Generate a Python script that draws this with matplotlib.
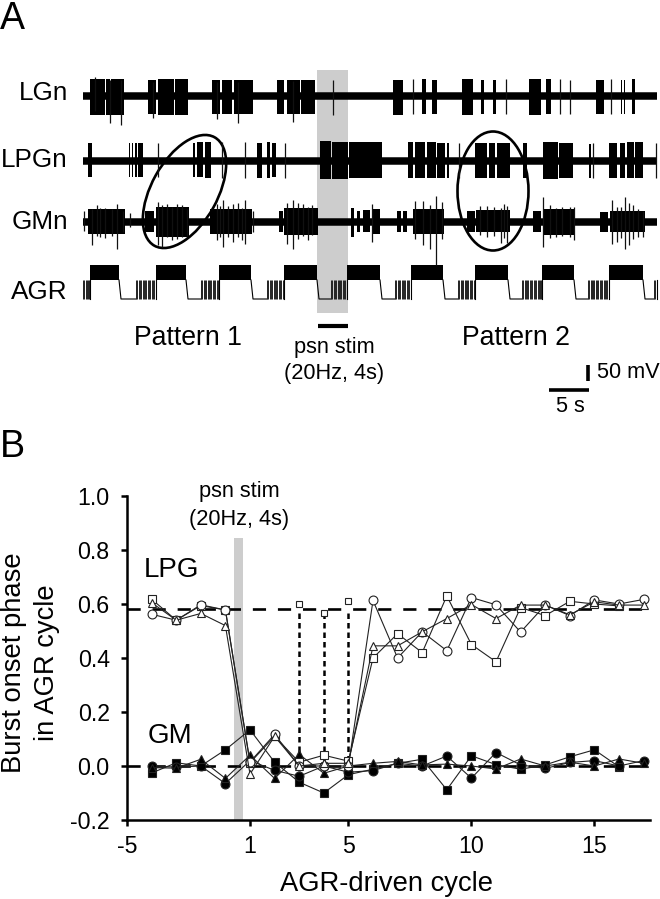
import matplotlib
matplotlib.use("Agg")
import matplotlib.pyplot as plt
from matplotlib.patches import Ellipse

plt.rcParams['font.family'] = ['Liberation Sans', 'DejaVu Sans']

# 記録トレース: 時間は 1 sample = 1/7.6 s, 振幅は 1 unit = 50/16 mV
# バースト (start, end, up, down)
LGN_BURSTS = [(90, 105, 17, 19), (106, 110, 17, 19), (111, 124, 17, 19), (148, 156, 16, 18), (158, 174, 17, 19),
              (175, 188, 17, 19), (212, 220, 16, 18), (222, 232, 16, 18), (234, 253, 16, 18), (277, 284, 16, 18),
              (287, 300, 16, 18), (301, 315, 16, 18), (393, 403, 16, 19), (422, 426, 17, 18), (432, 437, 16, 18),
              (462, 473, 17, 19), (481, 484, 16, 18), (493, 496, 16, 18), (529, 541, 17, 19), (546, 551, 17, 18),
              (596, 604, 16, 18), (621, 622, 16, 18), (624, 625, 16, 18), (632, 635, 17, 18)]
LGN_SPIKES = [(95, 19, 15), (110, 16, 27), (121, 16, 29), (153, 14, 22), (217, 14, 23), (238, 14, 27),
              (293, 15, 26), (333, 16, 19), (413, 17, 18), (506, 17, 18), (560, 17, 18), (570, 16, 18), (611, 17, 18)]

LPGN_BURSTS = [(88, 92, 18, 16), (129, 130, 18, 16), (132, 133, 18, 16), (135, 137, 18, 16), (138, 143, 18, 16),
               (193, 195, 18, 16), (197, 203, 19, 16), (205, 211, 19, 17), (257, 262, 18, 17), (267, 270, 19, 17),
               (272, 276, 18, 16), (320, 331, 20, 18), (332, 348, 19, 18), (349, 382, 19, 17), (408, 413, 19, 17),
               (415, 425, 19, 17), (427, 436, 19, 17), (437, 445, 18, 17), (447, 449, 18, 17), (475, 487, 18, 17),
               (489, 495, 18, 17), (497, 510, 18, 17), (523, 527, 18, 17), (543, 558, 19, 18), (559, 573, 18, 17),
               (589, 591, 17, 17), (609, 617, 18, 17), (620, 625, 18, 17), (627, 634, 19, 17), (635, 643, 19, 17)]
LPGN_SPIKES = [(158, 18, 16), (222, 19, 17), (245, 19, 17), (285, 18, 17), (459, 18, 17), (593, 18, 17), (656, 18, 17)]

GMN_BURSTS = [(88, 125, 13, 12), (145, 154, 11, 10), (156, 189, 15, 15), (210, 252, 13, 12), (279, 283, 11, 10),
              (284, 318, 14, 13), (351, 354, 14, 15), (357, 360, 11, 10), (363, 370, 12, 10), (373, 380, 13, 12),
              (397, 401, 11, 10), (403, 407, 11, 10), (413, 444, 13, 12), (467, 475, 11, 10), (476, 510, 12, 10),
              (533, 541, 11, 10), (543, 574, 13, 13), (600, 608, 10, 10), (610, 645, 11, 10)]
GMN_SPIKES = [(84, 11, 9), (92, 13, 23), (97, 17, 14), (100, 14, 15), (105, 14, 16), (112, 13, 14), (117, 18, 27),
              (123, 11, 10), (130, 9, 5), (158, 20, 23), (162, 17, 25), (167, 18, 15), (172, 15, 18), (177, 18, 17),
              (182, 17, 15), (187, 13, 14), (217, 18, 18), (220, 16, 15), (223, 22, 25), (228, 16, 15), (233, 18, 20),
              (238, 19, 15), (242, 14, 18), (245, 22, 22), (253, 11, 10), (287, 19, 22), (293, 22, 27), (298, 19, 17),
              (303, 18, 14), (308, 15, 18), (312, 17, 13), (372, 18, 20), (415, 21, 17), (423, 21, 23), (430, 17, 27),
              (436, 26, 43), (442, 20, 17), (480, 16, 13), (487, 16, 15), (494, 15, 14), (501, 14, 21), (504, 18, 16),
              (507, 16, 21), (543, 25, 25), (550, 17, 16), (556, 14, 15), (562, 15, 14), (570, 15, 15), (574, 15, 18),
              (612, 22, 22), (617, 15, 20), (621, 15, 16), (625, 25, 27), (629, 19, 23), (633, 17, 17), (638, 13, 15),
              (643, 11, 15)]
# AGR の誘発バースト: (刺激開始, プラトー開始, プラトー終了)
AGR_CYCLES = [(83, 90, 119), (136, 156, 186), (201, 219, 251), (267, 284, 317), (331, 347, 380), (395, 411, 443),
              (458, 475, 508), (522, 542, 574), (588, 609, 643), (654, 657, 657)]

TRACE_LABELS = ['LGn', 'LPGn', 'GMn', 'AGR']

# 位相データ: サイクル番号（0 はない）
CYCLES = [-4, -3, -2, -1, 1, 2, 3, 4, 5, 6, 7, 8, 9, 10, 11, 12, 13, 14, 15, 16, 17]
LPG_SQUARE = [0.618, 0.54, 0.594, 0.578, 0.012, 0.11, 0.014, 0.04, 0.018, 0.40, 0.49, 0.42, 0.63, 0.45, 0.386, 0.587,
              0.557, 0.61, 0.60, 0.593]
LPG_CIRCLE = [0.562, 0.54, 0.597, 0.578, 0.015, 0.117, 0.0, 0.0, 0.0, 0.613, 0.40, 0.497, 0.427, 0.624, 0.597, 0.496,
              0.596, 0.557, 0.615, 0.60, 0.617]
LPG_TRIANGLE = [0.605, 0.54, 0.565, 0.52, -0.03, 0.11, 0.0, 0.01, 0.01, 0.445, 0.445, 0.497, 0.546, 0.598, 0.546,
                0.596, 0.596, 0.56, 0.608, 0.596, 0.596]
GM_SQUARE = [-0.026, 0.012, 0.0, 0.06, 0.134, 0.014, -0.06, -0.10, -0.032, -0.012, 0.01, 0.025, -0.088, 0.038, 0.005,
             -0.012, 0.004, 0.034, 0.06, -0.003]
GM_CIRCLE = [0.0, -0.004, 0.0, -0.065, 0.02, -0.016, -0.038, 0.0, -0.023, -0.017, 0.01, 0.0, 0.037, -0.045, 0.05,
             0.004, -0.009, 0.013, 0.02, 0.0, 0.02]
GM_TRIANGLE = [-0.006, -0.008, 0.025, -0.046, 0.04, -0.046, 0.043, -0.027, 0.0, 0.01, 0.017, 0.004, 0.007, 0.0,
               -0.011, 0.026, 0.0, 0.014, 0.0, 0.026, 0.01]
# 刺激中に LPG が抜けたサイクル
SKIP_CYCLES = [3, 4, 5]
SKIP_PHASE = [0.60, 0.568, 0.61]
LPG_MEAN = 0.58
X_TICK_CYCLES = [-5, 1, 5, 10, 15]
Y_TICKS = [-0.2, 0.0, 0.2, 0.4, 0.6, 0.8, 1.0]


def cycle_pos(c):
    # 0 がないので負側を詰める
    return c + 5 if c < 0 else c + 4


def draw_trace(ax, y0, bursts, spikes):
    ax.plot([83, 657], [y0, y0], color='k', lw=5.4, solid_capstyle='butt')
    for start, end, up, down in bursts:
        ax.fill_between([start, end], y0 - up, y0 + down, color='k', lw=0)
    for t, up, down in spikes:
        ax.vlines(t, y0 - up, y0 + down, color='#111111', lw=0.9)


def draw_agr(ax):
    top, mid, low = 265, 280, 299
    for i, (stim, rise, fall) in enumerate(AGR_CYCLES):
        # 誘発スパイク
        t = stim
        while t < rise:
            ax.vlines(t, mid, low, color='#222222', lw=0.7)
            t += 1.3
        ax.fill_between([rise, fall], top, mid, color='k', lw=0)
        ax.plot([rise, rise], [mid, low], color='k', lw=0.8)
        if i + 1 < len(AGR_CYCLES):
            ax.plot([fall, fall + 2, AGR_CYCLES[i + 1][0]], [mid, low, low], color='k', lw=0.8)


def main():
    fig = plt.figure(figsize=(6.6, 8.99), dpi=100)

    # 上のパネル（図全体をピクセル相当の座標で使う）
    ax = fig.add_axes([0, 0, 1, 1])
    ax.set_xlim(0, 660)
    ax.set_ylim(899, 0)
    ax.axis('off')

    ax.fill_between([317, 348], 70, 313, color='#cdcdcd', lw=0)
    draw_trace(ax, 96, LGN_BURSTS, LGN_SPIKES)
    draw_trace(ax, 160.5, LPGN_BURSTS, LPGN_SPIKES)
    draw_trace(ax, 222, GMN_BURSTS, GMN_SPIKES)
    draw_agr(ax)

    ax.add_patch(Ellipse((184.5, 191.5), 124, 66, angle=-61, fill=False, ec='k', lw=1.9))
    ax.add_patch(Ellipse((493, 191), 71, 119, fill=False, ec='k', lw=1.9))

    for label, y in zip(TRACE_LABELS, [93, 160, 222, 292]):
        ax.text(68, y, label, ha='right', va='center', fontsize=18.8)

    ax.plot([318, 348], [326, 326], color='k', lw=3, solid_capstyle='butt')
    ax.text(188, 338, 'Pattern 1', ha='center', va='center', fontsize=19.2)
    ax.text(516, 338, 'Pattern 2', ha='center', va='center', fontsize=19.2)
    ax.text(334, 347, 'psn stim', ha='center', va='center', fontsize=15.7)
    ax.text(334, 374, '(20Hz, 4s)', ha='center', va='center', fontsize=15.7)

    ax.plot([588, 588], [365, 381], color='k', lw=2.6, solid_capstyle='butt')
    ax.plot([549, 589], [390, 390], color='k', lw=2.6, solid_capstyle='butt')
    ax.text(597, 372, '50 mV', ha='left', va='center', fontsize=15.7)
    ax.text(570, 407, '5 s', ha='center', va='center', fontsize=15.7)

    ax.text(0, 19, 'A', ha='left', va='center', fontsize=27)
    ax.text(0, 447, 'B', ha='left', va='center', fontsize=27)

    # 下のパネル
    ax2 = fig.add_axes([127 / 660, 79 / 899, 523 / 660, 324 / 899])
    ax2.patch.set_alpha(0)
    ax2.set_xlim(0, 21.26)
    ax2.set_ylim(-0.2, 1.0)
    for s in ['top', 'right']:
        ax2.spines[s].set_visible(False)
    for s in ['left', 'bottom']:
        ax2.spines[s].set_linewidth(1.8)

    ax2.axvspan(4.35, 4.72, ymin=0, ymax=(0.844 + 0.2) / 1.2, color='#cdcdcd', lw=0, zorder=1)
    dash = (0, (5, 4.5))
    ax2.plot([0, 21.26], [LPG_MEAN, LPG_MEAN], color='k', lw=1.9, ls=dash, zorder=2)
    ax2.plot([0, 21.26], [0, 0], color='k', lw=1.9, ls=dash, zorder=2)

    x = [cycle_pos(c) for c in CYCLES]
    series = [(LPG_SQUARE, 's', 'white'), (LPG_CIRCLE, 'o', 'white'), (LPG_TRIANGLE, '^', 'white'),
              (GM_SQUARE, 's', 'k'), (GM_CIRCLE, 'o', 'k'), (GM_TRIANGLE, '^', 'k')]
    for i, (vals, marker, fc) in enumerate(series):
        ax2.plot(x[:len(vals)], vals, marker=marker, mfc=fc, mec='#222222', mew=0.8, ms=6.4,
                 color='#222222', lw=0.8, zorder=4 if i < 3 else 3, clip_on=False)

    for c, p in zip(SKIP_CYCLES, SKIP_PHASE):
        ax2.vlines(cycle_pos(c), 0.02, LPG_MEAN, color='k', lw=1.8, ls=(0, (2.2, 1.6)), zorder=2)
        ax2.plot(cycle_pos(c), p, 's', mfc='white', mec='#222222', mew=0.8, ms=4, zorder=4)

    ax2.set_xticks([cycle_pos(c) for c in X_TICK_CYCLES])
    ax2.set_xticklabels([str(c) for c in X_TICK_CYCLES])
    ax2.set_yticks(Y_TICKS)
    ax2.set_yticklabels(['%.1f' % v for v in Y_TICKS])
    ax2.tick_params(axis='both', labelsize=16.7, width=1.8, length=4.5)
    ax2.tick_params(axis='y', pad=8)
    ax2.tick_params(axis='x', pad=6)

    ax.text(386, 884, 'AGR-driven cycle', ha='center', va='center', fontsize=19.7)
    ax.text(14, 663, 'Burst onset phase', ha='center', va='center', rotation=90, fontsize=19.7)
    ax.text(47, 663, 'in AGR cycle', ha='center', va='center', rotation=90, fontsize=19.7)
    ax.text(144, 570, 'LPG', ha='left', va='center', fontsize=20)
    ax.text(148, 736, 'GM', ha='left', va='center', fontsize=20)
    ax.text(239, 491, 'psn stim', ha='center', va='center', fontsize=15.7)
    ax.text(239, 519, '(20Hz, 4s)', ha='center', va='center', fontsize=15.7)

    fig.savefig('out.png', dpi=100)


if __name__ == "__main__":
    main()
